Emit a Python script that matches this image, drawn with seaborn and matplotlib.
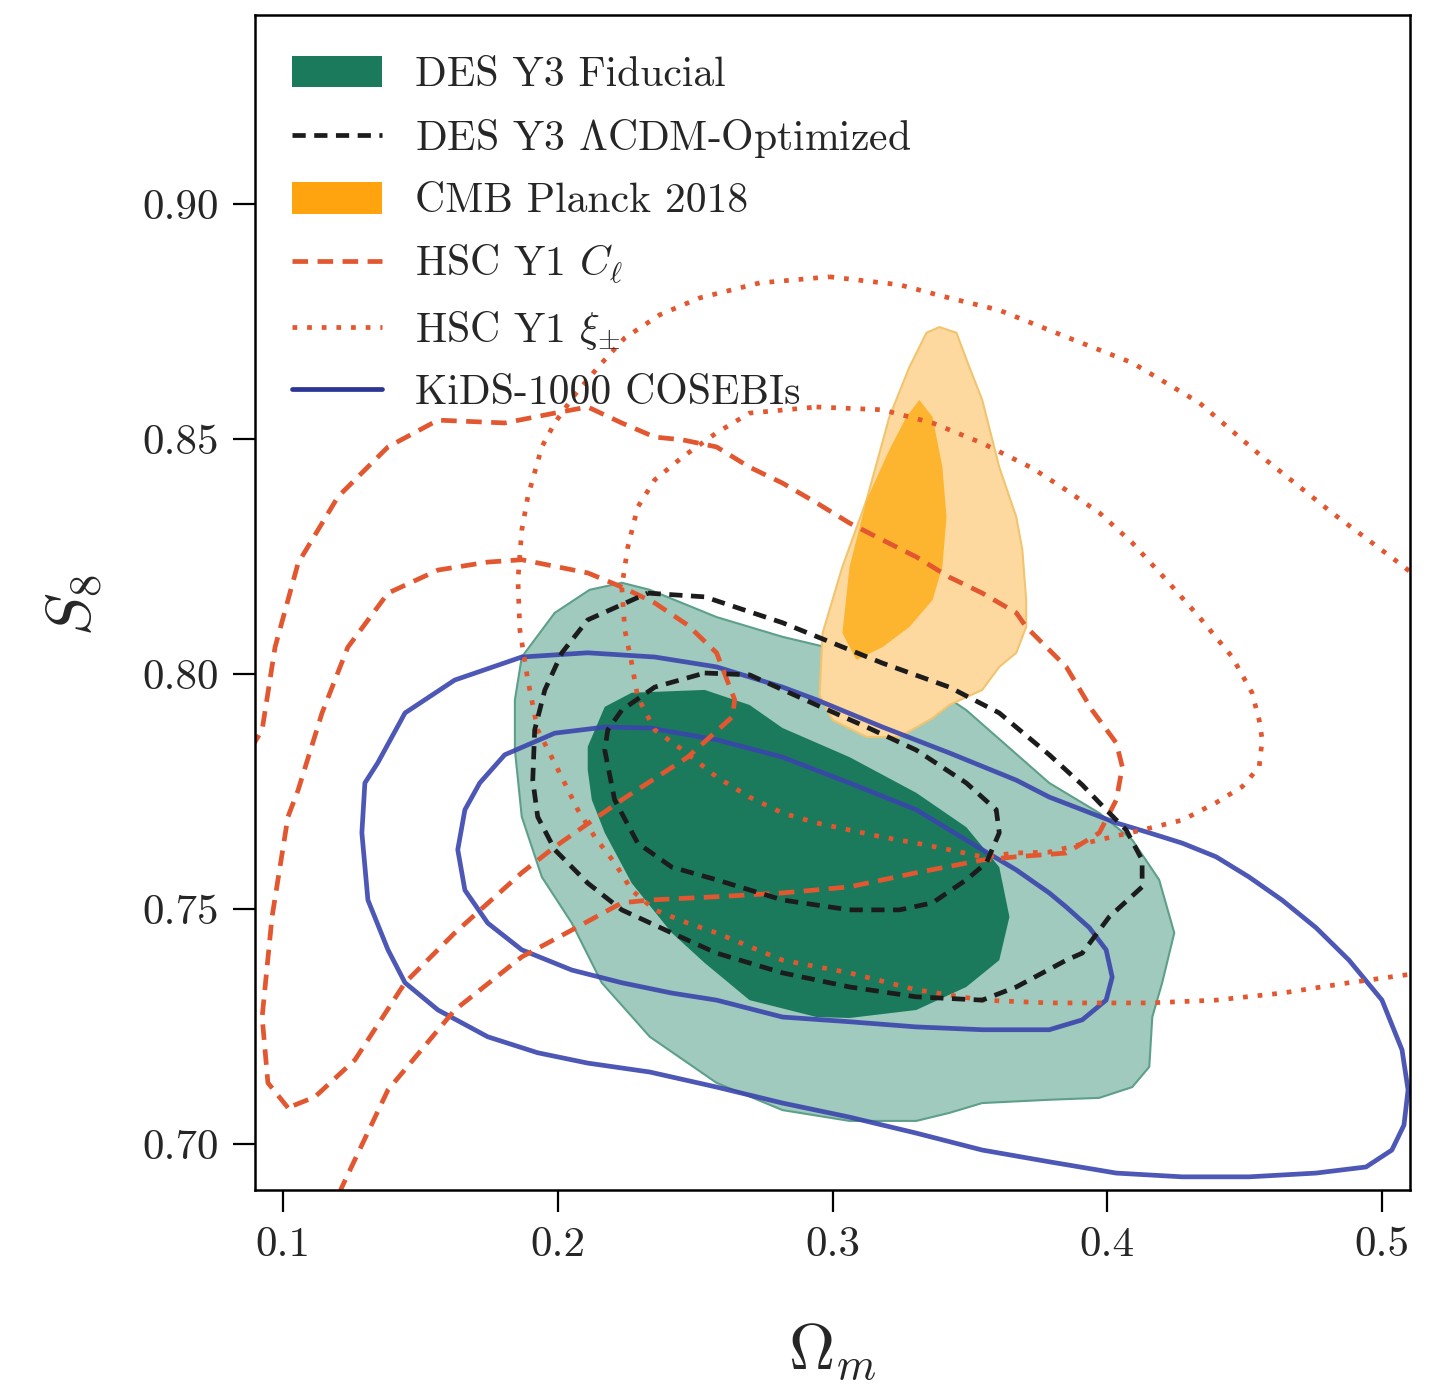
import numpy as np
import matplotlib
matplotlib.use("Agg")
import matplotlib.pyplot as plt
import seaborn as sns
from matplotlib.patches import Patch
from matplotlib.lines import Line2D

# contour vertices (Omega_m, S8)
des_outer_om = [0.2233, 0.2335, 0.2578, 0.2818, 0.3062, 0.3305, 0.3487, 0.3789, 0.3971, 0.4091, 0.4189, 0.4244,
                0.4200, 0.4164, 0.4153, 0.4091, 0.3971, 0.3789, 0.3545, 0.3425, 0.3305, 0.3062, 0.2818, 0.2578,
                0.2335, 0.2160, 0.2051, 0.1942, 0.1869, 0.1844, 0.1844, 0.1869, 0.1989, 0.2116]
des_outer_s8 = [0.8194, 0.8179, 0.8121, 0.8079, 0.8045, 0.7994, 0.7923, 0.7768, 0.7704, 0.7647, 0.7562, 0.7449,
                0.7343, 0.7270, 0.7164, 0.7121, 0.7098, 0.7094, 0.7087, 0.7066, 0.7049, 0.7049, 0.7072, 0.7130,
                0.7228, 0.7343, 0.7470, 0.7568, 0.7696, 0.7838, 0.7945, 0.8036, 0.8130, 0.8179]
des_inner_om = [0.2109, 0.2171, 0.2269, 0.2535, 0.2698, 0.2818, 0.3062, 0.3305, 0.3487, 0.3607, 0.3644, 0.3607,
                0.3487, 0.3305, 0.3062, 0.2942, 0.2698, 0.2535, 0.2415, 0.2269, 0.2171, 0.2124, 0.2109]
des_inner_s8 = [0.7845, 0.7930, 0.7960, 0.7966, 0.7934, 0.7885, 0.7823, 0.7747, 0.7674, 0.7589, 0.7483, 0.7391,
                0.7334, 0.7285, 0.7268, 0.7270, 0.7306, 0.7385, 0.7449, 0.7555, 0.7662, 0.7732, 0.7796]

opt_outer_om = [0.2327, 0.2535, 0.2818, 0.3000, 0.3182, 0.3425, 0.3607, 0.3789, 0.3909, 0.3996, 0.4069, 0.4127,
                0.4127, 0.4007, 0.3909, 0.3851, 0.3669, 0.3545, 0.3305, 0.3062, 0.2818, 0.2578, 0.2415, 0.2233,
                0.2109, 0.1989, 0.1927, 0.1909, 0.1916, 0.1953, 0.2015, 0.2109]
opt_outer_s8 = [0.8172, 0.8164, 0.8109, 0.8066, 0.8023, 0.7972, 0.7917, 0.7828, 0.7764, 0.7711, 0.7668, 0.7604,
                0.7547, 0.7483, 0.7406, 0.7391, 0.7334, 0.7306, 0.7313, 0.7334, 0.7364, 0.7406, 0.7449, 0.7498,
                0.7555, 0.7626, 0.7696, 0.7774, 0.7881, 0.7966, 0.8045, 0.8115]
opt_inner_om = [0.2535, 0.2698, 0.2942, 0.3124, 0.3305, 0.3487, 0.3596, 0.3607, 0.3560, 0.3487, 0.3364, 0.3244,
                0.3062, 0.2818, 0.2578, 0.2415, 0.2291, 0.2207, 0.2171, 0.2182, 0.2233, 0.2353]
opt_inner_s8 = [0.8002, 0.7998, 0.7934, 0.7887, 0.7838, 0.7768, 0.7711, 0.7662, 0.7598, 0.7562, 0.7513, 0.7498,
                0.7498, 0.7519, 0.7562, 0.7589, 0.7640, 0.7732, 0.7838, 0.7881, 0.7923, 0.7972]

planck_outer_om = [0.3389, 0.3451, 0.3498, 0.3545, 0.3607, 0.3669, 0.3691, 0.3705, 0.3705, 0.3669, 0.3607, 0.3545,
                   0.3425, 0.3364, 0.3244, 0.3124, 0.3000, 0.2953, 0.2964, 0.3036, 0.3124, 0.3207, 0.3280, 0.3342]
planck_outer_s8 = [0.8738, 0.8726, 0.8653, 0.8583, 0.8440, 0.8334, 0.8264, 0.8157, 0.8100, 0.8045, 0.8015, 0.7966,
                   0.7934, 0.7906, 0.7866, 0.7866, 0.7902, 0.7955, 0.8087, 0.8228, 0.8370, 0.8547, 0.8653, 0.8726]
planck_inner_om = [0.3316, 0.3364, 0.3400, 0.3415, 0.3400, 0.3364, 0.3280, 0.3182, 0.3087, 0.3036, 0.3062, 0.3124,
                   0.3207, 0.3269]
planck_inner_s8 = [0.8583, 0.8547, 0.8440, 0.8334, 0.8228, 0.8157, 0.8100, 0.8057, 0.8030, 0.8087, 0.8228, 0.8370,
                   0.8477, 0.8547]

hsc_cl_outer_om = [0.0790, 0.0924, 0.0971, 0.1055, 0.1200, 0.1382, 0.1564, 0.1807, 0.1989, 0.2109, 0.2233, 0.2353,
                   0.2455, 0.2578, 0.2698, 0.2818, 0.2942, 0.3062, 0.3182, 0.3305, 0.3425, 0.3545, 0.3669, 0.3705,
                   0.3851, 0.3945, 0.4033, 0.4055, 0.4033, 0.3971, 0.3851, 0.3669, 0.3545, 0.3305, 0.3062, 0.2818,
                   0.2578, 0.2335, 0.2233, 0.2051, 0.1869, 0.1625, 0.1382, 0.1215, 0.1135, 0.0771, 0.0771]
hsc_cl_outer_s8 = [0.7750, 0.7881, 0.8057, 0.8236, 0.8377, 0.8483, 0.8540, 0.8534, 0.8555, 0.8568, 0.8534, 0.8504,
                   0.8498, 0.8483, 0.8440, 0.8406, 0.8364, 0.8321, 0.8285, 0.8249, 0.8206, 0.8172, 0.8130, 0.8100,
                   0.8015, 0.7923, 0.7853, 0.7802, 0.7732, 0.7662, 0.7619, 0.7611, 0.7604, 0.7577, 0.7547, 0.7534,
                   0.7526, 0.7519, 0.7513, 0.7455, 0.7398, 0.7285, 0.7115, 0.6909, 0.6796, 0.6796, 0.7750]
hsc_cl_inner_om = [0.1018, 0.0945, 0.0924, 0.0960, 0.1018, 0.1055, 0.1142, 0.1236, 0.1382, 0.1564, 0.1745, 0.1869,
                   0.2109, 0.2233, 0.2353, 0.2473, 0.2578, 0.2644, 0.2636, 0.2473, 0.2233, 0.1989, 0.1869, 0.1625,
                   0.1444, 0.1262, 0.1116]
hsc_cl_inner_s8 = [0.7077, 0.7130, 0.7270, 0.7483, 0.7696, 0.7753, 0.7917, 0.8057, 0.8172, 0.8221, 0.8238, 0.8243,
                   0.8215, 0.8185, 0.8151, 0.8104, 0.8045, 0.7945, 0.7909, 0.7823, 0.7732, 0.7632, 0.7577, 0.7449,
                   0.7343, 0.7179, 0.7100]

hsc_xi_outer_om = [0.2989, 0.3244, 0.3425, 0.3607, 0.3851, 0.4091, 0.4335, 0.4578, 0.4818, 0.5062, 0.5280, 0.5280,
                   0.5091, 0.4880, 0.4636, 0.4396, 0.4153, 0.3789, 0.3545, 0.3305, 0.3062, 0.2818, 0.2578, 0.2473,
                   0.2353, 0.2269, 0.2207, 0.2135, 0.2073, 0.2025, 0.1978, 0.1927, 0.1891, 0.1862, 0.1855, 0.1869,
                   0.1891, 0.1942, 0.1989, 0.2062, 0.2153, 0.2244, 0.2371, 0.2516, 0.2735]
hsc_xi_outer_s8 = [0.8845, 0.8828, 0.8800, 0.8774, 0.8717, 0.8662, 0.8577, 0.8455, 0.8343, 0.8236, 0.8136, 0.7370,
                   0.7360, 0.7343, 0.7321, 0.7306, 0.7300, 0.7300, 0.7306, 0.7328, 0.7364, 0.7391, 0.7449, 0.7470,
                   0.7498, 0.7540, 0.7598, 0.7653, 0.7711, 0.7768, 0.7823, 0.7881, 0.7987, 0.8094, 0.8200, 0.8306,
                   0.8377, 0.8483, 0.8534, 0.8594, 0.8657, 0.8715, 0.8764, 0.8800, 0.8832]
hsc_xi_inner_om = [0.2942, 0.3182, 0.3364, 0.3545, 0.3727, 0.3851, 0.3971, 0.4091, 0.4215, 0.4335, 0.4455, 0.4527,
                   0.4553, 0.4564, 0.4553, 0.4491, 0.4396, 0.4273, 0.4127, 0.3971, 0.3789, 0.3669, 0.3545, 0.3425,
                   0.3305, 0.3182, 0.3062, 0.2942, 0.2818, 0.2698, 0.2578, 0.2455, 0.2353, 0.2291, 0.2269, 0.2244,
                   0.2233, 0.2255, 0.2291, 0.2353, 0.2455, 0.2578, 0.2698]
hsc_xi_inner_s8 = [0.8568, 0.8562, 0.8534, 0.8491, 0.8438, 0.8391, 0.8343, 0.8279, 0.8200, 0.8121, 0.8036, 0.7960,
                   0.7902, 0.7860, 0.7802, 0.7760, 0.7726, 0.7689, 0.7668, 0.7647, 0.7621, 0.7619, 0.7611, 0.7626,
                   0.7640, 0.7653, 0.7668, 0.7683, 0.7704, 0.7738, 0.7781, 0.7838, 0.7881, 0.7951, 0.8023, 0.8094,
                   0.8185, 0.8270, 0.8355, 0.8413, 0.8462, 0.8513, 0.8555]

kids_outer_om = [0.1869, 0.2109, 0.2353, 0.2578, 0.2818, 0.2942, 0.3182, 0.3425, 0.3669, 0.3789, 0.3909, 0.4033,
                 0.4153, 0.4273, 0.4396, 0.4516, 0.4636, 0.4760, 0.4880, 0.5000, 0.5073, 0.5095, 0.5080, 0.5036,
                 0.4942, 0.4760, 0.4516, 0.4273, 0.4033, 0.3789, 0.3545, 0.3305, 0.3062, 0.2818, 0.2578, 0.2335,
                 0.2109, 0.1927, 0.1745, 0.1564, 0.1444, 0.1382, 0.1309, 0.1287, 0.1298, 0.1345, 0.1444, 0.1625]
kids_outer_s8 = [0.8036, 0.8045, 0.8036, 0.8015, 0.7972, 0.7945, 0.7887, 0.7832, 0.7774, 0.7738, 0.7711, 0.7683,
                 0.7662, 0.7640, 0.7611, 0.7568, 0.7519, 0.7460, 0.7391, 0.7306, 0.7200, 0.7115, 0.7040, 0.6987,
                 0.6951, 0.6938, 0.6930, 0.6930, 0.6938, 0.6962, 0.6987, 0.7023, 0.7057, 0.7087, 0.7121, 0.7153,
                 0.7172, 0.7194, 0.7228, 0.7285, 0.7343, 0.7413, 0.7519, 0.7662, 0.7768, 0.7811, 0.7917, 0.7987]
kids_inner_om = [0.2171, 0.2335, 0.2578, 0.2818, 0.3062, 0.3305, 0.3545, 0.3669, 0.3789, 0.3851, 0.3935, 0.3996,
                 0.4018, 0.3996, 0.3909, 0.3789, 0.3545, 0.3305, 0.3062, 0.2818, 0.2578, 0.2415, 0.2233, 0.2051,
                 0.1869, 0.1745, 0.1662, 0.1636, 0.1662, 0.1716, 0.1807, 0.1989]
kids_inner_s8 = [0.7887, 0.7885, 0.7860, 0.7823, 0.7768, 0.7711, 0.7626, 0.7583, 0.7534, 0.7504, 0.7460, 0.7413,
                 0.7355, 0.7306, 0.7264, 0.7243, 0.7243, 0.7249, 0.7260, 0.7270, 0.7306, 0.7321, 0.7343, 0.7370,
                 0.7413, 0.7470, 0.7540, 0.7626, 0.7711, 0.7768, 0.7828, 0.7874]

x_ticks = [0.1, 0.2, 0.3, 0.4, 0.5]
x_tick_labels = ["0.1", "0.2", "0.3", "0.4", "0.5"]
y_ticks = [0.70, 0.75, 0.80, 0.85, 0.90]
y_tick_labels = ["0.70", "0.75", "0.80", "0.85", "0.90"]

labels = ["DES Y3 Fiducial", r"DES Y3 $\Lambda$CDM-Optimized", "CMB Planck 2018",
          r"HSC Y1 $C_\ell$", r"HSC Y1 $\xi_{\pm}$", "KiDS-1000 COSEBIs"]

GREEN = "#1b7a5c"
GREEN_LIGHT = "#9fcabd"
ORANGE = "#ffa30f"
ORANGE_IN = "#fdb530"
ORANGE_LIGHT = "#fdd9a0"
RED = "#e2572f"
BLUE = "#3a45ad"
LW = 3.4


def closed(a):
    return np.r_[a, a[:1]]


sns.set_theme(style="ticks")
plt.rcParams["font.family"] = "serif"
plt.rcParams["font.serif"] = ["cmr10", "DejaVu Serif"]
plt.rcParams["mathtext.fontset"] = "cm"
plt.rcParams["axes.unicode_minus"] = False
plt.rcParams["lines.solid_joinstyle"] = "round"
plt.rcParams["lines.dash_joinstyle"] = "round"

fig = plt.figure(figsize=(14.5, 13.84), dpi=100)
ax = fig.add_axes([255 / 1450, 1 - 1190 / 1384, 1155 / 1450, 1175 / 1384])

# filled posteriors
ax.fill(des_outer_om, des_outer_s8, facecolor=GREEN_LIGHT, edgecolor="#5e9f8a", lw=1.5, zorder=1)
ax.fill(des_inner_om, des_inner_s8, facecolor=GREEN, edgecolor="none", zorder=2)
ax.fill(planck_outer_om, planck_outer_s8, facecolor=ORANGE_LIGHT, edgecolor="#f2c46e", lw=1.5, zorder=3)
ax.fill(planck_inner_om, planck_inner_s8, facecolor=ORANGE_IN, edgecolor="none", zorder=4)

line_kw = dict(sort=False, estimator=None, legend=False, ax=ax)

for om, s8 in [(kids_outer_om, kids_outer_s8), (kids_inner_om, kids_inner_s8)]:
    sns.lineplot(x=closed(om), y=closed(s8), color=BLUE, lw=LW, alpha=0.9, zorder=5, **line_kw)

for om, s8 in [(hsc_xi_outer_om, hsc_xi_outer_s8), (hsc_xi_inner_om, hsc_xi_inner_s8)]:
    sns.lineplot(x=closed(om), y=closed(s8), color=RED, lw=LW, zorder=6, **line_kw)
    ax.lines[-1].set_dashes((1, 2.1))

for om, s8 in [(hsc_cl_outer_om, hsc_cl_outer_s8), (hsc_cl_inner_om, hsc_cl_inner_s8)]:
    sns.lineplot(x=closed(om), y=closed(s8), color=RED, lw=LW, zorder=7, **line_kw)
    ax.lines[-1].set_dashes((3.3, 2.0))

for om, s8 in [(opt_outer_om, opt_outer_s8), (opt_inner_om, opt_inner_s8)]:
    sns.lineplot(x=closed(om), y=closed(s8), color="#1c1c1c", lw=LW, zorder=8, **line_kw)
    ax.lines[-1].set_dashes((2.8, 1.8))

ax.set_xlim(0.0898, 0.5102)
ax.set_ylim(0.6902, 0.9402)
ax.set_xticks(x_ticks)
ax.set_xticklabels(x_tick_labels)
ax.set_yticks(y_ticks)
ax.set_yticklabels(y_tick_labels)
ax.tick_params(axis="both", direction="out", length=16, width=1.6, labelsize=31, pad=10, color="black")
for side in ax.spines.values():
    side.set_linewidth(1.8)
    side.set_color("black")
    side.set_zorder(20)

ax.set_xlabel(r"$\Omega_m$", fontsize=46)
ax.set_ylabel(r"$S_8$", fontsize=46)
ax.xaxis.set_label_coords(0.4996, -0.112)
ax.yaxis.set_label_coords(-0.13, 0.498)

handles = [
    Patch(facecolor=GREEN, edgecolor="none"),
    Line2D([], [], color="#1c1c1c", lw=LW, dashes=(2.8, 1.8)),
    Patch(facecolor=ORANGE, edgecolor="none"),
    Line2D([], [], color=RED, lw=LW, dashes=(3.3, 2.0)),
    Line2D([], [], color=RED, lw=LW, dashes=(1, 2.1)),
    Line2D([], [], color="#2a3595", lw=LW),
]
leg = ax.legend(handles, labels, loc="upper left", bbox_to_anchor=(0.032, 0.965), frameon=False,
                fontsize=30, borderpad=0, borderaxespad=0, labelspacing=0.54, handlelength=2.15,
                handleheight=0.78, handletextpad=0.8)
leg.set_zorder(30)

fig.savefig("out.png", dpi=100, facecolor="white")
